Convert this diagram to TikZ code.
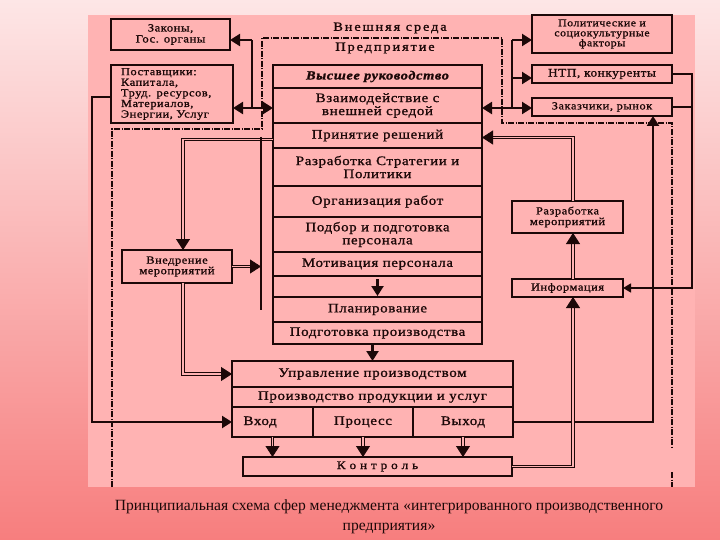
\documentclass[tikz,border=0pt]{standalone}
\usepackage{fontspec}
\setmainfont{Liberation Serif}
\newfontfamily\dfont[FakeStretch=1.15,LetterSpace=5,FakeBold=1.2]{Liberation Serif}
\usetikzlibrary{arrows.meta,positioning}

\definecolor{ink}{HTML}{1C0808}
\definecolor{panel}{HTML}{FFB3B3}
\definecolor{bgtop}{HTML}{FDE6E6}
\definecolor{bgmid}{HTML}{FCB4B4}
\definecolor{bgbot}{HTML}{F77E7E}

\begin{document}
\begin{tikzpicture}[x=1pt, y=-1pt, >={Triangle[length=10pt,width=12pt]}]
\tikzstyle{rowbox}=[draw=ink, line width=1.3pt, minimum width=209pt, inner sep=0pt, outer sep=0pt, align=center, text=ink, font=\dfont\fontsize{13}{13}\selectfont];
\tikzstyle{prodrow}=[rowbox, minimum width=281pt];
\tikzstyle{cell}=[rowbox, minimum height=30pt];
\tikzstyle{sidebox}=[draw=ink, line width=2.4pt, inner sep=0pt, outer sep=0pt, align=center, text=ink, font=\dfont\fontsize{10.8}{10.6}\selectfont];
\tikzstyle{outline}=[draw=ink, line width=2.6pt];
\tikzstyle{bus}=[draw=ink, line width=2.2pt];
\tikzstyle{slim}=[draw=ink, line width=1.4pt, >={Triangle[length=8pt,width=9pt]}];
\tikzstyle{dbl}=[draw=ink, double=panel, double distance=1.6pt, line width=0.8pt, shorten >=10pt];
\tikzstyle{arrtip}=[draw=ink, line width=0.8pt, -{Triangle[length=11pt,width=14pt]}];
\tikzstyle{entline}=[draw=ink, line width=1.2pt, dash pattern=on 6pt off 1.5pt on 1pt off 1.5pt];
\tikzstyle{lbl}=[text=ink, font=\dfont\fontsize{12.5}{13}\selectfont\addfontfeature{LetterSpace=15}];
\tikzstyle{capt}=[text=ink, align=center, font=\fontsize{15.6}{20}\selectfont];

% background and panel
\shade[top color=bgtop, middle color=bgmid, bottom color=bgbot] (0,0) rectangle (720,540);
\fill[panel] (88,15) rectangle (695,487);

% enterprise border
\draw[entline] (112,487) -- (112,129) -- (262,129) -- (262,38) -- (502,38) -- (502,123) -- (672,123) -- (672,448);
\draw[entline] (672,472) -- (672,487);
\node[lbl] (env) at (390,28) {Внешняя среда};
\node[lbl] (ent) at (385,48) {Предприятие};

% central column
\node[rowbox, minimum height=23pt, font=\dfont\fontsize{12.5}{13}\selectfont\bfseries\itshape] (top) at (377.5,76.5) {Высшее руководство};
\node[rowbox, minimum height=35pt, below=0pt of top] (inter) {Взаимодействие с\\внешней средой};
\node[rowbox, minimum height=25pt, below=0pt of inter] (decide) {Принятие решений};
\node[rowbox, minimum height=38pt, below=0pt of decide] (strat) {Разработка Стратегии и\\Политики};
\node[rowbox, minimum height=31pt, below=0pt of strat] (org) {Организация работ};
\node[rowbox, minimum height=35pt, below=0pt of org] (staff) {Подбор и подготовка\\персонала};
\node[rowbox, minimum height=24pt, below=0pt of staff] (motiv) {Мотивация персонала};
\node[rowbox, minimum height=21pt, below=0pt of motiv] (gap) {};
\node[rowbox, minimum height=25pt, below=0pt of gap] (plan) {Планирование};
\node[rowbox, minimum height=22pt, below=0pt of plan] (prep) {Подготовка производства};
\draw[outline] (top.north west) rectangle (prep.south east);

% production block
\node[prodrow, minimum height=26pt] (mgmt) at (372.5,374) {Управление производством};
\node[prodrow, minimum height=20pt, below=0pt of mgmt] (output) {Производство продукции и услуг};
\node[cell, minimum width=81pt, text width=58pt, align=left, below right=0pt of output.south west] (in) {Вход};
\node[cell, minimum width=100pt, right=0pt of in] (proc) {Процесс};
\node[cell, minimum width=100pt, right=0pt of proc] (out) {Выход};
\draw[outline] (mgmt.north west) rectangle (out.south east);
\node[sidebox, minimum width=269pt, minimum height=19pt, line width=2.6pt, font=\dfont\fontsize{11.5}{12}\selectfont] (ctrl) at (377.5,466.5) {К о н т р о л ь};

% left boxes
\node[sidebox, minimum width=119pt, minimum height=31pt, font=\dfont\fontsize{11}{11}\selectfont] (laws) at (170.5,34.5) {Законы,\\Гос. органы};
\node[sidebox, minimum width=122pt, minimum height=58pt, text width=102pt, align=left] (supp) at (172,94) {Поставщики:\\Капитала,\\Труд. ресурсов,\\Материалов,\\Энергии, Услуг};
\node[sidebox, minimum width=110pt, minimum height=33pt] (impl) at (177,266.5) {Внедрение\\мероприятий};

% right boxes
\node[sidebox, minimum width=140pt, minimum height=38pt, font=\dfont\fontsize{10.3}{10}\selectfont] (pol) at (602,34) {Политические и\\социокультурные\\факторы};
\node[sidebox, minimum width=140pt, minimum height=18pt, font=\dfont\fontsize{11.5}{12}\selectfont] (ntp) at (602,74) {НТП, конкуренты};
\node[sidebox, minimum width=140pt, minimum height=18pt] (cust) at (602,107) {Заказчики, рынок};
\node[sidebox, minimum width=111pt, minimum height=32pt] (devm) at (567.5,217) {Разработка\\мероприятий};
\node[sidebox, minimum width=111pt, minimum height=18pt] (info) at (567.5,288) {Информация};

% links to the outer world
\coordinate (lbt) at (252,40);
\coordinate (lbm) at (252,108);
\draw[bus] (lbt) -- (lbm);
\draw[bus,->] (lbt) -- (lbt -| laws.east);
\draw[bus,->] (lbm) -- (lbm -| supp.east);
\draw[bus,->] (lbm) -- (lbm -| inter.west);
\coordinate (rbt) at (512,40);
\coordinate (rbn) at (512,78);
\coordinate (rbm) at (512,108);
\draw[bus] (rbt) -- (rbm);
\draw[bus,->] (rbt) -- (rbt -| pol.west);
\draw[bus,->] (rbn) -- (rbn -| ntp.west);
\draw[bus,->] (rbm) -- (rbm -| cust.west);
\draw[bus,->] (rbm) -- (rbm -| inter.east);

% right side loops
\coordinate (rr) at (692,288);
\draw[slim,->] (ntp.east) -| (rr) -- (info.east);
\draw[slim] (cust.east) -- (cust.east -| rr);
\draw[bus,->] (out.east) -| ([xshift=51pt]cust.south);
\draw[dbl] (ctrl.east) -| ([xshift=5.5pt]info.south);
\draw[arrtip] ([xshift=5.5pt,yshift=-2pt]info.south) -- ([xshift=5.5pt]info.south);
\draw[dbl] ([xshift=5.5pt]info.north) -- ([xshift=5.5pt]devm.south);
\draw[arrtip] ([xshift=5.5pt,yshift=-2pt]devm.south) -- ([xshift=5.5pt]devm.south);
\draw[dbl] ([xshift=5.5pt]devm.north) |- ([yshift=-2pt]decide.east);
\draw[arrtip] ([xshift=2pt,yshift=-2pt]decide.east) -- ([yshift=-2pt]decide.east);

% left side loops
\draw[dbl] ([yshift=-4pt]decide.west) -| ([xshift=6pt]impl.north);
\draw[arrtip] ([xshift=6pt,yshift=2pt]impl.north) -- ([xshift=6pt]impl.north);
\coordinate (vtop) at (261,137);
\coordinate (vbot) at (261,310);
\draw[slim] (vtop) -- (vbot);
\draw[dbl] (impl.east) -- (impl.east -| vtop);
\draw[arrtip] ([xshift=-2pt]impl.east -| vtop) -- (impl.east -| vtop);
\draw[dbl] ([xshift=6pt]impl.south) |- (mgmt.west);
\draw[arrtip] ([xshift=-2pt]mgmt.west) -- (mgmt.west);
\coordinate (sl) at (92,97);
\draw[bus,->] (supp.west |- sl) -- (sl) |- (in.west);

% flow down the column
\draw[bus,->,shorten >=1pt] ([yshift=-3pt]gap.north) -- (gap.south);
\draw[bus,->] (mgmt.north |- prep.south) -- (mgmt.north);
\draw[dbl] (in.south) -- (in.south |- ctrl.north);
\draw[arrtip] ([yshift=2pt]in.south |- ctrl.north) -- (in.south |- ctrl.north);
\draw[dbl] (proc.south) -- (proc.south |- ctrl.north);
\draw[arrtip] ([yshift=2pt]proc.south |- ctrl.north) -- (proc.south |- ctrl.north);
\draw[dbl] (out.south) -- (out.south |- ctrl.north);
\draw[arrtip] ([yshift=2pt]out.south |- ctrl.north) -- (out.south |- ctrl.north);

% caption
\node[capt] (cap) at (389,517) {Принципиальная схема сфер менеджмента «интегрированного производственного\\предприятия»};
\end{tikzpicture}
\end{document}
